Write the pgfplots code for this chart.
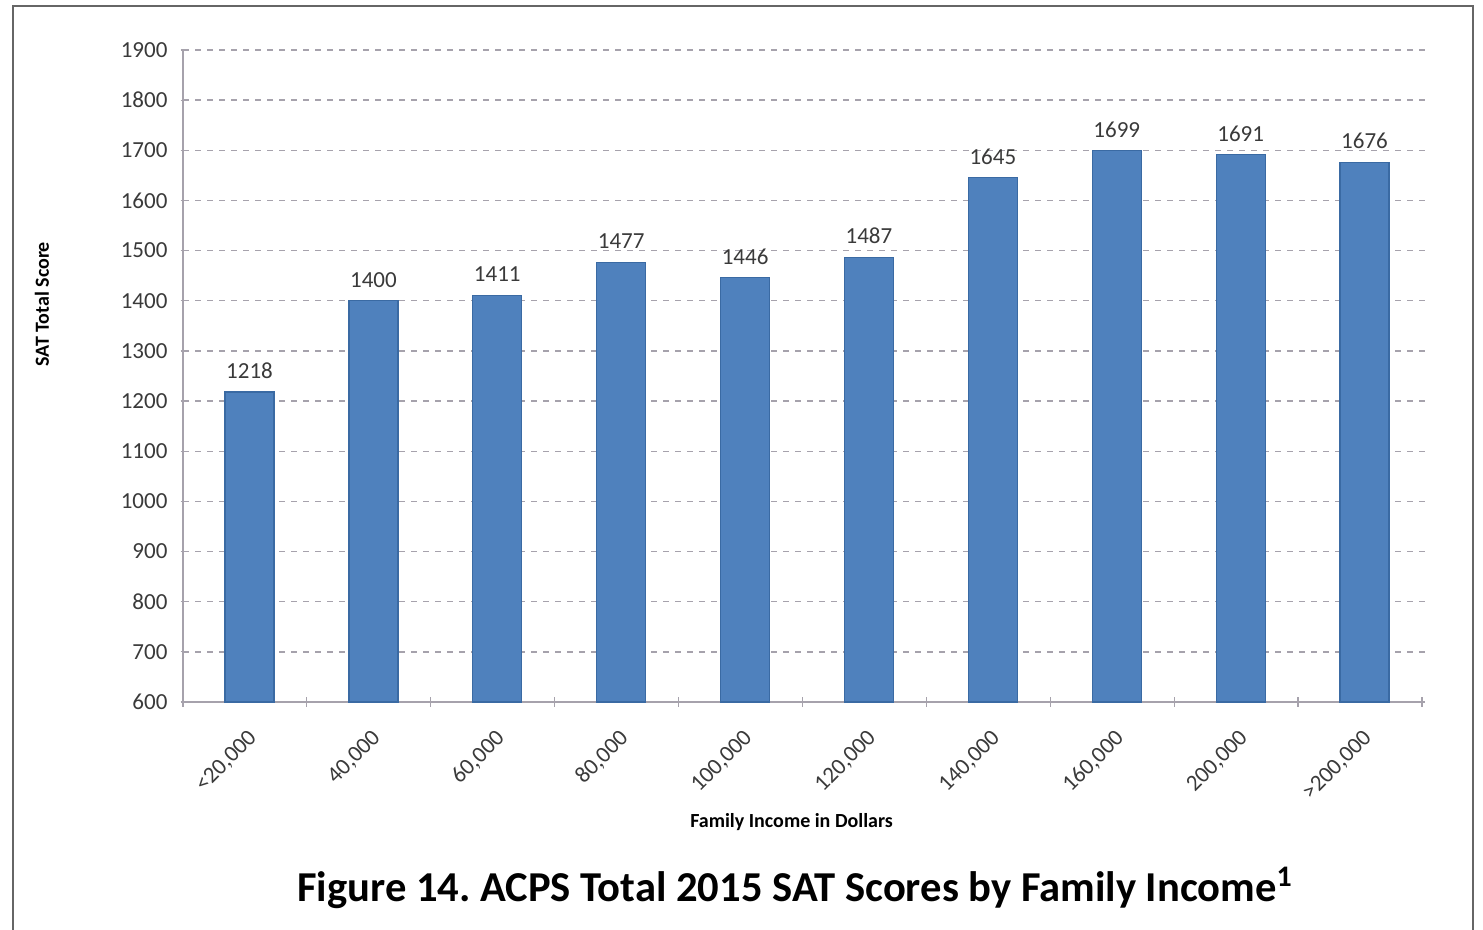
\documentclass[border=0pt]{standalone}
\usepackage{pgfplots}
\pgfplotsset{compat=1.18}
\usepackage{fontspec}
\setmainfont{Carlito}
\frenchspacing
\definecolor{barblue}{HTML}{4F81BD}
\definecolor{baredge}{HTML}{3A6AA3}
\definecolor{gridc}{HTML}{A6A2AC}
\definecolor{txt}{HTML}{3A3A3A}
\begin{document}
\begin{tikzpicture}
\useasboundingbox (0,0) rectangle (741.5pt,465pt);
\draw[color=gray!80!black, line width=0.8pt] (6.5pt,-2pt) -- (6.5pt,462pt) -- (736.5pt,462pt) -- (736.5pt,-2pt);
\begin{axis}[
  at={(91.5pt,114pt)}, anchor=south west,
  scale only axis, width=621pt, height=326pt,
  xmin=-0.537, xmax=9.488, ymin=600, ymax=1900,
  ytick={600,700,...,1900},
  xtick={0,...,9},
  xticklabels={{<20,000},{40,000},{60,000},{80,000},{100,000},{120,000},{140,000},{160,000},{200,000},{>200,000}},
  minor xtick={-0.537,0.463,1.463,2.463,3.463,4.463,5.463,6.463,7.463,8.463,9.463},
  major x tick style={draw=none},
  minor tick length=5pt,
  major tick length=2.5pt,
  tick align=outside,
  tick style={gridc, line width=0.6pt},
  axis x line=bottom, axis y line=left,
  axis line style={-, gridc, line width=0.8pt},
  ymajorgrids, major grid style={gridc, dashed, line width=0.7pt},
  /pgf/number format/assume math mode=true,
  /pgf/number format/1000 sep={},
  ticklabel style={font=\fontsize{11.5pt}{13pt}\selectfont, text=txt},
  yticklabel style={xshift=-3pt},
  xticklabel style={rotate=45, anchor=east, xshift=-6pt, yshift=-12pt},
  ylabel={SAT Total Score},
  ylabel style={at={(axis description cs:-0.1135,0.61)}, anchor=center, font=\bfseries\fontsize{10pt}{12pt}\selectfont, text=black},
  xlabel={Family Income in Dollars},
  xlabel style={at={(axis description cs:0.49,-0.184)}, anchor=center, font=\bfseries\fontsize{10pt}{12pt}\selectfont, text=black},
  nodes near coords,
  every node near coord/.append style={font=\fontsize{11.5pt}{13pt}\selectfont, text=txt, yshift=3pt},
  clip=false,
]
\addplot[ybar, bar width=24.5pt, fill=barblue, draw=baredge, line width=0.6pt] coordinates {
  (0,1218) (1,1400) (2,1411) (3,1477) (4,1446) (5,1487) (6,1645) (7,1699) (8,1691) (9,1676)
};
\end{axis}
\node[font=\bfseries\fontsize{21.3pt}{25pt}\selectfont] at (397.5pt,21pt) {Figure 14. ACPS Total 2015 SAT Scores by Family Income\textsuperscript{1}};
\end{tikzpicture}
\end{document}
